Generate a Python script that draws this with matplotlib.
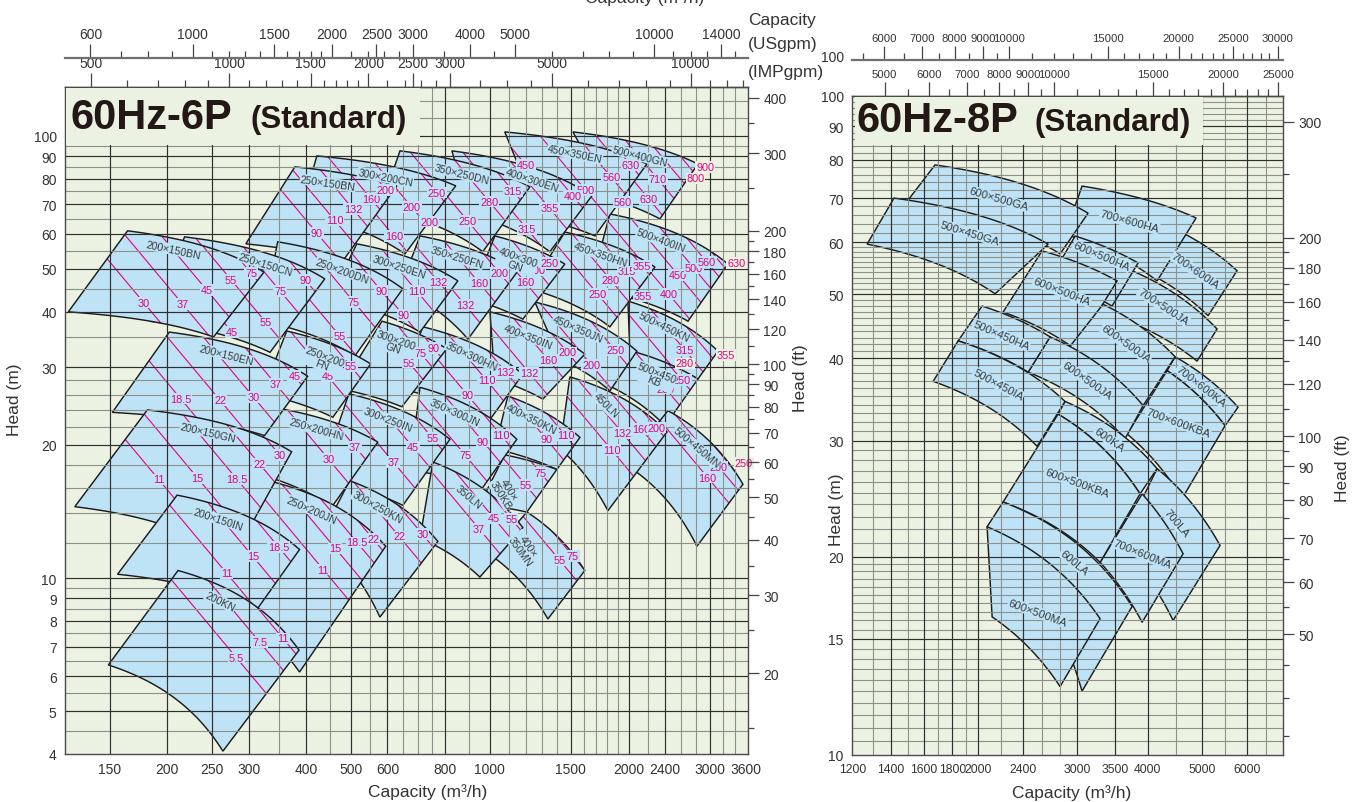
import numpy as np
import matplotlib
matplotlib.use("Agg")
import matplotlib.pyplot as plt
from matplotlib.patches import Polygon, Rectangle
from matplotlib.path import Path
from matplotlib.ticker import NullLocator, NullFormatter, FixedLocator

plt.rcParams["font.family"] = ["Liberation Sans", "DejaVu Sans"]

BG = "#ebf2e2"
FILL = "#bee3f7"
MAG = "#e5007f"
INK = "#3a3a3a"
GRID1 = "#2f2f2f"
GRID2 = "#8d918a"
US = 4.4029    # USgpm per m3/h
IMP = 3.6662   # IMPgpm per m3/h
FT = 3.2808    # ft per m
K = 1.25       # log slope of the motor power lines

# ---------------- 60Hz-6P, listed back to front ----------------
p6_names = ["500×400GN", "500×400IN", "500×450KN", "500×450\nKB", "500×450MN",
            "450×350EN", "450×350HN", "450×350JN", "450LN",
            "400×300EN", "400×300\nGN", "400×350IN", "400×350KN", "400×\n350KB", "400×\n350MN",
            "350×250DN", "350×250FN", "350×300HN", "350×300JN", "350LN",
            "300×200CN", "300×250EN", "300×200\nGN", "300×250IN", "300×250KN",
            "250×150BN", "250×200DN", "250×200\nFN", "250×200HN", "250×200JN", "250×150CN",
            "200×150BN", "200×150EN", "200×150GN", "200×150IN", "200KN"]
p6_tl = [(1515, 102.1), (1822, 66.6), (1994, 42.3), (2034, 32.6), (2435, 23.9),
         (1078, 102.1), (1455, 60.6), (1253, 42.1), (1492, 28.5),
         (828, 92.5), (1026, 59.4), (1001, 40.0), (1095, 25.8), (1078, 19.0), (1204, 14.1),
         (639, 92.5), (706, 59.4), (716, 37.0), (706, 27.0), (753, 18.3),
         (422, 90.1), (515, 57.0), (584, 38.1), (495, 26.1), (497, 16.6),
         (378, 85.1), (347, 57.6), (363, 36.2), (356, 24.1), (339, 16.5), (218, 59.1),
         (164, 61.0), (202, 36.0), (181, 24.0), (210, 15.4), (211, 10.4)]
p6_tr = [(2828, 86.4), (3286, 51.3), (3126, 32.6), (2828, 28.2), (3541, 16.3),
         (2192, 86.4), (2282, 50.5), (2085, 32.6), (2423, 21.4),
         (1666, 73.2), (1455, 51.3), (1608, 32.1), (1569, 20.8), (1398, 17.6), (1608, 10.4),
         (1222, 76.7), (1151, 49.5), (1180, 28.9), (1145, 20.6), (1180, 13.0),
         (844, 77.1), (853, 47.0), (807, 33.0), (820, 20.6), (772, 12.1),
         (629, 77.1), (648, 45.1), (552, 30.5), (572, 20.3), (595, 11.8), (439, 47.5),
         (324, 49.2), (403, 28.6), (372, 19.3), (387, 11.6), (386, 6.87)]
p6_br = [(2339, 64.9), (2691, 38.1), (2828, 28.2), (2399, 22.1), (2814, 11.8),
         (1691, 59.4), (1822, 37.0), (1822, 26.5), (1804, 14.2),
         (1350, 54.7), (1180, 38.5), (1304, 25.4), (1398, 17.6), (1204, 14.1), (1337, 8.08),
         (966, 54.7), (897, 34.7), (991, 22.5), (961, 15.9), (952, 10.05),
         (655, 54.1), (706, 36.0), (645, 24.4), (648, 14.6), (578, 8.16),
         (480, 52.1), (510, 31.8), (457, 23.1), (455, 14.5), (387, 6.13), (334, 32.4),
         (252, 35.1), (325, 21.0), (276, 11.0), (313, 8.5), (264, 4.06)]
p6_bl = [(1822, 72.0), (1649, 45.1), (2014, 32.1), (1777, 27.5), (1964, 18.1),
         (1285, 64.9), (1222, 45.1), (1420, 31.3), (1420, 19.6),
         (906, 66.6), (906, 42.8), (1026, 28.2), (1026, 19.6), (952, 14.7), (1001, 11.3),
         (578, 68.4), (639, 45.1), (639, 26.8), (671, 17.6), (706, 12.3),
         (388, 66.6), (450, 42.8), (473, 26.8), (428, 16.7), (428, 12.3),
         (296, 57.0), (321, 38.1), (321, 26.1), (287, 17.6), (235, 8.97), (183, 38.1),
         (122, 40.0), (152, 23.7), (126, 14.5), (156, 10.2), (149, 6.36)]
# name label: (position along top edge, offset in px below it, rotation override)
p6_lab = [(0.56, 12, None), (0.47, 12, None), (0.45, 11, None), (0.45, 17, None), (0.5, 13, -40),
          (0.51, 12, None), (0.44, 12, None), (0.47, 12, None), (0.43, 14, -45),
          (0.6, 12, None), (0.4, 18, None), (0.45, 12, None), (0.4, 12, None), (0.35, 0.3, -58), (0.3, 0.45, -55),
          (0.5, 12, None), (0.41, 12, None), (0.54, 12, None), (0.41, 12, None), (0.49, 15, -40),
          (0.51, 12, None), (0.45, 12, None), (0.28, 18, None), (0.43, 13, None), (0.38, 13, None),
          (0.34, 12, None), (0.55, 12, None), (0.51, 18, None), (0.39, 12, None), (0.39, 14, None), (0.6, 11, None),
          (0.35, 11, None), (0.43, 12, None), (0.44, 12, None), (0.37, 13, None), (0.4, 14, None)]
# motor power lines (kW); ">" marks a value printed outside the zone
p6_kw = [["500", "560", "630", "710", ">800", ">900"], ["355", "400", "450", "500", "560", ">630"],
         [">280", "315", ">355"], ["200", "250"], ["160", "200", ">250"],
         ["400", "450", "500", "560", "630"], ["250", "280", "315", "355"], ["200", "250"],
         ["110", "132", "160", "200"],
         ["280", "315", "355", "400"], ["160", "200", "250"], ["132", "160", "200"], ["90", "110"],
         ["55", "75"], ["55", "75"],
         ["200", "250", "280", "315"], ["132", "160", "200"], ["90", "110", "132"], ["75", "90", "110"],
         ["37", "45", "55"],
         ["132", "160", "200", "250"], ["90", "110", "132"], ["55", "75", "90"], ["37", "45", "55"], ["22", "30"],
         ["90", "110", "132", "160", "200"], ["55", "75", "90"], ["45", "55"], ["30", "37"],
         ["11", "15", "18.5", "22"], ["45", "55", "75", "90"],
         ["30", "37", "45", "55", "75"], ["18.5", "22", "30", "37", "45"], ["11", "15", "18.5", "22", "30"],
         ["11", "15", "18.5"], ["5.5", "7.5", "11"]]
p6_kw_s = [[-0.35, -0.08, 0.18, 0.42, 0.65, 0.86], [-0.35, -0.08, 0.18, 0.42, 0.65, 0.86],
           [-0.15, 0.25, 0.65], [0.05, 0.55], [-0.35, 0.1, 0.6],
           [-0.35, -0.05, 0.25, 0.55, 0.82], [-0.25, 0.08, 0.42, 0.75], [0.05, 0.55],
           [-0.25, 0.08, 0.42, 0.75],
           [-0.25, 0.08, 0.42, 0.75], [-0.15, 0.25, 0.65], [-0.15, 0.25, 0.65], [0.05, 0.55],
           [-0.1, 0.5], [-0.25, 0.45],
           [-0.25, 0.08, 0.42, 0.75], [-0.15, 0.25, 0.65], [-0.15, 0.25, 0.65], [-0.15, 0.25, 0.65],
           [-0.15, 0.25, 0.65],
           [-0.25, 0.08, 0.42, 0.75], [-0.15, 0.25, 0.65], [-0.15, 0.25, 0.65], [-0.15, 0.25, 0.65],
           [0.05, 0.55],
           [-0.35, -0.05, 0.25, 0.55, 0.82], [-0.15, 0.25, 0.65], [0.05, 0.55], [0.05, 0.55],
           [-0.25, 0.08, 0.42, 0.75], [-0.25, 0.08, 0.42, 0.75],
           [-0.35, -0.05, 0.25, 0.55, 0.82], [-0.35, -0.05, 0.25, 0.55, 0.82],
           [-0.35, -0.05, 0.25, 0.55, 0.82], [-0.15, 0.25, 0.65], [-0.15, 0.25, 0.65]]

# ---------------- 60Hz-8P, listed back to front ----------------
p8_names = ["700×600IA", "700×600HA", "700×500JA", "700×600KA", "700×600KBA", "700LA", "700×600MA",
            "600×500HA", "600×500HA", "600×500JA", "600×500JA", "600KA", "600×500KBA", "600LA",
            "600×500MA", "600×500GA", "500×450GA", "500×450HA", "500×450IA"]
p8_tl = [(4665, 61.7), (3060, 73.0), (3755, 54.3), (4477, 40.2), (4333, 38.3), (4159, 27.2), (3912, 24.9),
         (2974, 61.3), (2598, 58.2), (3334, 48.3), (2685, 43.1), (2854, 34.4), (2774, 32.9), (2215, 24.2),
         (2075, 22.2), (1677, 78.6), (1418, 70.0), (2033, 48.0), (1843, 42.5)]
p8_tr = [(5768, 54.3), (4879, 65.3), (5315, 44.3), (5792, 33.7), (5492, 31.6), (5381, 20.8), (4626, 20.2),
         (3848, 55.8), (3531, 52.4), (4477, 40.2), (3928, 33.9), (4159, 27.2), (3879, 24.9), (3755, 16.8),
         (3294, 16.1), (3136, 66.4), (2663, 59.6), (2685, 43.1), (2854, 34.4)]
p8_br = [(5124, 46.4), (4159, 52.4), (4898, 39.6), (5492, 31.6), (4607, 24.5), (4441, 16.0), (3912, 15.9),
         (3459, 48.0), (2974, 41.3), (3928, 33.9), (3649, 30.2), (3879, 24.9), (3294, 19.6), (3060, 12.5),
         (2797, 12.7), (2797, 57.6), (2144, 50.1), (2454, 38.1), (2546, 29.4)]
p8_bl = [(4042, 53.7), (2854, 61.7), (3188, 47.5), (4333, 38.3), (3679, 30.7), (3575, 20.9), (3294, 19.6),
         (2685, 52.8), (2215, 47.0), (2797, 39.9), (2454, 38.1), (2774, 32.9), (2215, 24.2), (2075, 22.2),
         (2118, 16.2), (1484, 68.6), (1270, 59.6), (1843, 42.5), (1664, 36.9)]
# name label: (position along zone, height fraction, rotation override)
p8_lab = [(0.5, 0.5, None), (0.52, 0.58, None), (0.5, 0.63, None), (0.5, 0.5, -38), (0.5, 0.57, -20),
          (0.5, 0.7, -50), (0.5, 0.5, -22), (0.5, 0.8, None), (0.5, 0.56, None), (0.5, 0.65, None),
          (0.5, 0.5, None), (0.55, 0.5, -35), (0.5, 0.53, -20), (0.62, 0.75, -40), (0.55, 0.42, -20),
          (0.5, 0.55, None), (0.58, 0.67, None), (0.45, 0.5, None), (0.5, 0.5, None)]

W, H = 1363, 803
fig = plt.figure(figsize=(W / 100, H / 100), dpi=100)


def box(l, t, r, b):
    return [l / W, 1 - b / H, (r - l) / W, (b - t) / H]


def coef(p, q):
    b = (p[1] - q[1]) / (q[0] ** 2 - p[0] ** 2)
    return p[1] + b * p[0] ** 2, b


def edge(p, q, n=40):
    a, b = coef(p, q)
    qq = np.logspace(np.log10(p[0]), np.log10(q[0]), n)
    return qq, a - b * qq ** 2


def at(p, q, s):
    a, b = coef(p, q)
    qs = 10 ** (np.log10(p[0]) + s * (np.log10(q[0]) - np.log10(p[0])))
    return qs, a - b * qs ** 2


def setup(ax, xlim, ylim, xt, yt, vmaj, vmin, hmaj, hmin, xfs=10):
    ax.set_xscale("log")
    ax.set_yscale("log")
    ax.set_xlim(*xlim)
    ax.set_ylim(*ylim)
    ax.set_autoscale_on(False)
    ax.set_facecolor(BG)
    ax.set_xticks(xt)
    ax.set_xticklabels([str(v) for v in xt])
    ax.set_yticks(yt)
    ax.set_yticklabels([str(v) for v in yt])
    ax.xaxis.set_minor_locator(NullLocator())
    ax.yaxis.set_minor_locator(NullLocator())
    ax.tick_params(length=0, labelsize=10, labelcolor="#333333", pad=6)
    ax.tick_params(axis="x", labelsize=xfs)
    for s in ax.spines.values():
        s.set_color("#4a4a4a")
        s.set_linewidth(1.0)
    for v in vmin:
        ax.axvline(v, color=GRID2, lw=0.8, zorder=1.5)
    for v in hmin:
        ax.axhline(v, color=GRID2, lw=0.8, zorder=1.5)
    for v in vmaj:
        ax.axvline(v, color=GRID1, lw=0.85, zorder=1.55)
    for v in hmaj:
        ax.axhline(v, color=GRID1, lw=0.85, zorder=1.55)


def panel(ax, names, tl, tr, br, bl, lab, fs, kw=None, kw_s=None):
    polys = []
    for i in range(len(names)):
        tq, th = edge(tl[i], tr[i])
        bq, bh = edge(bl[i], br[i])
        polys.append(np.column_stack([np.r_[tq, bq[::-1]], np.r_[th, bh[::-1]]]))
    logpaths = [Path(np.log10(v)) for v in polys]
    for i, v in enumerate(polys):
        z = 1 + 0.01 * i
        fillp = Polygon(v, closed=True, fc=FILL, ec="none", zorder=z)
        ax.add_patch(fillp)
        ax.add_patch(Polygon(v, closed=True, fill=False, ec="#1c1c1c", lw=1.05,
                             zorder=z + 0.006, joinstyle="miter"))
        if kw is not None:
            for txt, s in zip(kw[i], kw_s[i]):
                q0, h0 = at(tl[i], tr[i], s)
                qq = q0 * np.logspace(-0.02, 0.7, 160)
                hh = h0 * (qq / q0) ** (-K)
                ln, = ax.plot(qq, hh, color=MAG, lw=0.8, zorder=z + 0.003)
                ln.set_clip_path(fillp)
                pts = np.log10(np.column_stack([qq, hh]))
                inside = logpaths[i].contains_points(pts)
                idx_in = np.flatnonzero(inside)
                if len(idx_in) == 0:
                    continue
                if txt.startswith(">"):
                    k = idx_in[-1]
                    ax.annotate(txt[1:], (qq[k], hh[k]), xytext=(13, 3), textcoords="offset pixels",
                                ha="center", va="center", fontsize=7.8, color=MAG, zorder=2.5,
                                bbox=dict(boxstyle="square,pad=0.08", fc=BG, ec="none"))
                    continue
                vis = inside.copy()
                for j in range(i + 1, len(polys)):
                    vis &= ~logpaths[j].contains_points(pts)
                idx_v = np.flatnonzero(vis)
                if len(idx_v) == 0:
                    continue
                k = idx_v[int(0.7 * (len(idx_v) - 1))]
                ax.annotate(txt, (qq[k], hh[k]), xytext=(0, 0), textcoords="offset pixels",
                            ha="center", va="center", fontsize=7.8, color=MAG, zorder=2.5,
                            bbox=dict(boxstyle="square,pad=0.08", fc=FILL, ec="none"))
        # zone name
        s, v, rot = lab[i]
        qa, ha = at(tl[i], tr[i], s)
        p1 = ax.transData.transform(at(tl[i], tr[i], s - 0.03))
        p2 = ax.transData.transform(at(tl[i], tr[i], s + 0.03))
        ang = np.degrees(np.arctan2(p2[1] - p1[1], p2[0] - p1[0]))
        if v < 1:
            qb, hb = at(bl[i], br[i], s)
            xy = (10 ** (np.log10(qb) + v * (np.log10(qa) - np.log10(qb))),
                  10 ** (np.log10(hb) + v * (np.log10(ha) - np.log10(hb))))
            off = (0, 0)
        else:
            th = np.radians(ang)
            xy = (qa, ha)
            off = (v * np.sin(th), -v * np.cos(th))
        ax.annotate(names[i], xy, xytext=off, textcoords="offset pixels",
                    rotation=ang if rot is None else rot, rotation_mode="anchor",
                    ha="center", va="center", fontsize=fs, color=INK, zorder=3, linespacing=0.9,
                    bbox=dict(boxstyle="square,pad=0.05", fc=FILL, ec="none"))


def gpm_axis(rect, lim, factor, major, minor, lw, color, fs=10):
    a = fig.add_axes(rect)
    a.patch.set_visible(False)
    a.set_xscale("log")
    a.set_xlim(lim[0] * factor, lim[1] * factor)
    a.yaxis.set_visible(False)
    for s in ("left", "right", "bottom"):
        a.spines[s].set_visible(False)
    a.spines["top"].set_color(color)
    a.spines["top"].set_linewidth(lw)
    a.xaxis.tick_top()
    a.set_xticks(major)
    a.set_xticklabels([str(v) for v in major])
    a.xaxis.set_minor_locator(FixedLocator(minor))
    a.xaxis.set_minor_formatter(NullFormatter())
    a.tick_params(axis="x", which="major", direction="out", length=10, width=0.9,
                  labelsize=fs, labelcolor="#333333", color="#444444", pad=2)
    a.tick_params(axis="x", which="minor", direction="out", length=5, width=0.9, color="#444444")


def ft_axis(ax, ylim, major, minor):
    t = ax.twinx()
    t.set_yscale("log")
    t.set_ylim(ylim[0] * FT, ylim[1] * FT)
    t.set_yticks(major)
    t.set_yticklabels([str(v) for v in major])
    t.yaxis.set_minor_locator(FixedLocator(minor))
    t.yaxis.set_minor_formatter(NullFormatter())
    t.tick_params(axis="y", which="major", direction="out", length=8, width=0.9,
                  labelsize=10, labelcolor="#333333", color="#444444", pad=3)
    t.tick_params(axis="y", which="minor", direction="out", length=4, width=0.9, color="#444444")
    for s in t.spines.values():
        s.set_visible(False)


# ---------------- left chart ----------------
xlimL, ylimL = (120, 3631), (4.0, 129)
axL = fig.add_axes(box(65, 88, 748, 755))
setup(axL, xlimL, ylimL,
      [150, 200, 250, 300, 400, 500, 600, 800, 1000, 1500, 2000, 2400, 3000, 3600],
      [4, 5, 6, 7, 8, 9, 10, 20, 30, 40, 50, 60, 70, 80, 90, 100],
      [150, 200, 250, 300, 400, 500, 600, 800, 1000, 1500, 2000, 2400, 3000],
      [350, 450, 550, 650, 700, 750, 900, 1100, 1200, 1300, 1400, 1600, 1700, 1800, 1900,
       2200, 2600, 2800, 3200, 3400],
      [5, 6, 7, 8, 9, 10, 20, 30, 40, 50, 60, 70, 80, 90, 100],
      [4.5, 5.5, 6.5, 7.5, 8.5, 9.5, 12, 14, 16, 18, 22, 24, 26, 28, 35, 45, 55, 65, 75, 85, 95,
       110, 120])
panel(axL, p6_names, p6_tl, p6_tr, p6_br, p6_bl, p6_lab, 7.6, p6_kw, p6_kw_s)
ft_axis(axL, ylimL, [20, 30, 40, 50, 60, 70, 80, 90, 100, 120, 140, 160, 180, 200, 300, 400],
        [15, 25, 35, 45, 55, 65, 75, 85, 95, 110, 130, 150, 170, 190, 250, 350])
gpm_axis(box(65, 88, 748, 755), xlimL, IMP, [500, 1000, 1500, 2000, 2500, 3000, 5000, 10000],
         [600, 700, 800, 900, 1100, 1200, 1300, 1400, 1600, 1700, 1800, 1900, 2200, 2400, 2600,
          2800, 3500, 4000, 4500, 6000, 7000, 8000, 9000, 11000, 12000, 13000], 1.0, "#4a4a4a")
gpm_axis(box(65, 59, 748, 60), xlimL, US, [600, 1000, 1500, 2000, 2500, 3000, 4000, 5000, 10000, 14000],
         [700, 800, 900, 1100, 1200, 1300, 1400, 1600, 1700, 1800, 1900, 2200, 2400, 2600, 2800,
          3500, 4500, 6000, 7000, 8000, 9000, 11000, 12000, 13000, 15000], 1.6, "#707070")

# ---------------- right chart ----------------
xlimR, ylimR = (1194, 6961), (10, 100)
axR = fig.add_axes(box(852, 97, 1283, 756))
setup(axR, xlimR, ylimR,
      [1200, 1400, 1600, 1800, 2000, 2400, 3000, 3500, 4000, 5000, 6000],
      [10, 15, 20, 30, 40, 50, 60, 70, 80, 90, 100],
      [1400, 1600, 1800, 2000, 2400, 3000, 3500, 4000, 5000, 6000],
      [1300, 1500, 1700, 1900, 2200, 2600, 2800, 4500, 5500, 6500],
      [15, 20, 30, 40, 50, 60, 70, 80, 90],
      [10.5, 11, 11.5, 12, 12.5, 13, 13.5, 14, 14.5, 15.5, 16, 16.5, 17, 17.5, 18, 18.5, 19, 19.5,
       21, 22, 23, 24, 25, 26, 27, 28, 29, 31, 32, 33, 34, 35, 36, 37, 38, 39, 41, 42, 43, 44, 45,
       46, 47, 48, 49, 51, 52, 53, 54, 55, 56, 57, 58, 59, 62, 64, 66, 68, 72, 74, 76, 78, 82, 84,
       86, 88, 92, 94, 96, 98], xfs=8.8)
panel(axR, p8_names, p8_tl, p8_tr, p8_br, p8_bl, p8_lab, 8.2)
ft_axis(axR, ylimR, [50, 60, 70, 80, 90, 100, 120, 140, 160, 180, 200, 300],
        [35, 40, 45, 55, 65, 75, 85, 95, 110, 130, 150, 170, 190, 250])
gpm_axis(box(852, 97, 1283, 756), xlimR, IMP, [5000, 6000, 7000, 8000, 9000, 10000, 15000, 20000, 25000],
         [5500, 6500, 7500, 8500, 9500, 11000, 12000, 13000, 14000, 16000, 17000, 18000, 19000,
          21000, 22000, 23000, 24000], 1.0, "#4a4a4a", fs=8.2)
gpm_axis(box(852, 61, 1283, 62), xlimR, US, [6000, 7000, 8000, 9000, 10000, 15000, 20000, 25000, 30000],
         [5500, 6500, 7500, 8500, 9500, 11000, 12000, 13000, 14000, 16000, 17000, 18000, 19000,
          21000, 22000, 23000, 24000, 26000, 27000, 28000, 29000], 1.6, "#707070", fs=8.2)

# ---------------- titles and captions ----------------
for l, t, r, b in [(66, 89, 420, 146), (855, 98, 1203, 146)]:
    fig.add_artist(Rectangle((l / W, 1 - b / H), (r - l) / W, (b - t) / H,
                             transform=fig.transFigure, fc=BG, ec="none", zorder=2))
fig.text(70 / W, 1 - 118 / H, "60Hz-6P", fontsize=30, fontweight="bold", color="#231815",
         ha="left", va="center", zorder=3)
fig.text(250 / W, 1 - 120 / H, "(Standard)", fontsize=22.5, fontweight="bold", color="#231815",
         ha="left", va="center", zorder=3)
fig.text(856 / W, 1 - 121 / H, "60Hz-8P", fontsize=30, fontweight="bold", color="#231815",
         ha="left", va="center", zorder=3)
fig.text(1035 / W, 1 - 123 / H, "(Standard)", fontsize=22.5, fontweight="bold", color="#231815",
         ha="left", va="center", zorder=3)

cap = dict(fontsize=12.5, color="#333333", va="center")
fig.text(15 / W, 1 - 400 / H, "Head (m)", rotation=90, ha="center", **cap)
fig.text(800 / W, 1 - 378 / H, "Head (ft)", rotation=90, ha="center", **cap)
fig.text(428 / W, 1 - 792 / H, "Capacity (m³/h)", ha="center", **cap)
fig.text(836 / W, 1 - 510 / H, "Head (m)", rotation=90, ha="center", **cap)
fig.text(1342 / W, 1 - 468 / H, "Head (ft)", rotation=90, ha="center", **cap)
fig.text(1072 / W, 1 - 793 / H, "Capacity (m³/h)", ha="center", **cap)
fig.text(748 / W, 1 - 20 / H, "Capacity", ha="left", **cap)
fig.text(748 / W, 1 - 44 / H, "(USgpm)", ha="left", **cap)
fig.text(748 / W, 1 - 72 / H, "(IMPgpm)", ha="left", **cap)
fig.text(645 / W, 1 + 2 / H, "Capacity (m³/h)", ha="center", **cap)
fig.text(833 / W, 1 - 58 / H, "100", ha="center", va="center", fontsize=10, color="#333333")

fig.savefig("out.png", dpi=100)
